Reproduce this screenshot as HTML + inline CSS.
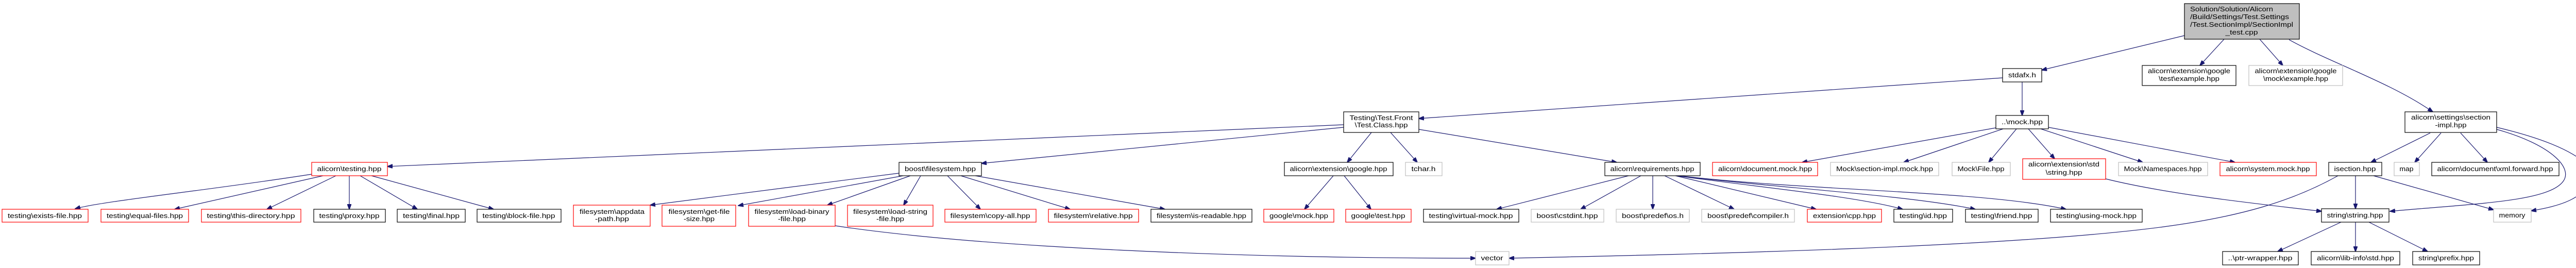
<!DOCTYPE html>
<html><head><meta charset="utf-8"><style>
html,body{margin:0;padding:0;background:#fff;}
svg{display:block;}
text{font-family:"Liberation Sans",sans-serif;font-size:12.5px;fill:#000;}
.b{fill:#fff;stroke:#000;stroke-width:1.2;}
.r{fill:#fff;stroke:#ff0000;stroke-width:1.2;}
.g{fill:#fff;stroke:#bfbfbf;stroke-width:1.2;}
.e{fill:none;stroke:#191970;stroke-width:1.2;marker-end:url(#a);}
</style></head><body>
<svg width="5038" height="520" viewBox="0 0 5038 520" xmlns="http://www.w3.org/2000/svg">
<defs><marker id="a" markerWidth="11" markerHeight="8" refX="10" refY="4" orient="auto" markerUnits="userSpaceOnUse"><path d="M0,0 L11,4 L0,8 z" fill="#191970" stroke="#191970"/></marker></defs>

<!-- edges -->
<path class="e" d="M4240,69 L3963,136"/>
<path class="e" d="M4317,76 L4270,127"/>
<path class="e" d="M4386,76 L4431,127"/>
<path class="e" d="M4443,77 C4520,120 4640,160 4722,217"/>
<path class="e" d="M3925,159 L3925,224"/>
<path class="e" d="M3887,151 L2754,230"/>
<path class="e" d="M2608,242 L752,323"/>
<path class="e" d="M2608,247 L1905,317"/>
<path class="e" d="M2662,257 L2615,315"/>
<path class="e" d="M2699,257 L2751,315"/>
<path class="e" d="M2754,251 L3138,315"/>
<path class="e" d="M2588,341 L2532,406"/>
<path class="e" d="M2609,341 L2661,406"/>
<path class="e" d="M3161,341 L2905,406"/>
<path class="e" d="M3185,341 L3068,406"/>
<path class="e" d="M3208,341 L3208,406"/>
<path class="e" d="M3231,341 L3366,406"/>
<path class="e" d="M3252,341 L3525,406"/>
<path class="e" d="M3255,341 C3400,362 3600,380 3693,406"/>
<path class="e" d="M3257,341 C3450,365 3700,378 3834,406"/>
<path class="e" d="M3259,341 C3500,370 3850,370 4010,406"/>
<path class="e" d="M3874,248 L3498,315"/>
<path class="e" d="M3888,250 L3695,315"/>
<path class="e" d="M3914,250 L3860,315"/>
<path class="e" d="M3937,250 L3988,308"/>
<path class="e" d="M3961,250 L4159,315"/>
<path class="e" d="M3976,247 L4338,315"/>
<path class="e" d="M4087,347 C4200,375 4350,392 4506,410"/>
<path class="e" d="M4538,341 C4450,390 4350,420 4200,440 C3900,480 3300,493 2929,501"/>
<path class="e" d="M1621,438 C1900,480 2400,501 2864,501"/>
<path class="e" d="M1745,336 L1262,398"/>
<path class="e" d="M1753,341 L1433,399"/>
<path class="e" d="M1767,341 L1606,398"/>
<path class="e" d="M1787,341 L1754,398"/>
<path class="e" d="M1839,341 L1903,406"/>
<path class="e" d="M1865,341 L2077,406"/>
<path class="e" d="M1893,341 L2261,406"/>
<path class="e" d="M605,338 C400,370 200,390 146,405"/>
<path class="e" d="M627,341 L339,406"/>
<path class="e" d="M652,341 L518,406"/>
<path class="e" d="M678,341 L678,406"/>
<path class="e" d="M699,341 L810,406"/>
<path class="e" d="M721,341 L958,406"/>
<path class="e" d="M4717,258 L4602,315"/>
<path class="e" d="M4738,258 L4687,315"/>
<path class="e" d="M4776,258 L4828,315"/>
<path class="e" d="M4846,251 C4950,280 4995,325 4975,352 C4945,392 4800,395 4639,410"/>
<path class="e" d="M4846,247 C4985,280 5040,320 5030,348 C5015,385 4970,400 4913,409"/>
<path class="e" d="M4572,341 L4572,405"/>
<path class="e" d="M4607,341 L4840,407"/>
<path class="e" d="M4544,431 L4421,488"/>
<path class="e" d="M4572,431 L4572,488"/>
<path class="e" d="M4598,431 L4712,488"/>

<!-- root -->
<rect x="4240" y="7" width="223" height="69" fill="#bfbfbf" stroke="#000" stroke-width="1.2"/>
<text x="4251" y="22" textLength="161" lengthAdjust="spacingAndGlyphs">Solution/Solution/Alicorn</text>
<text x="4251" y="37" textLength="192" lengthAdjust="spacingAndGlyphs">/Build/Settings/Test.Settings</text>
<text x="4251" y="52" textLength="200" lengthAdjust="spacingAndGlyphs">/Test.SectionImpl/SectionImpl</text>
<text x="4351" y="67" text-anchor="middle" textLength="63" lengthAdjust="spacingAndGlyphs">_test.cpp</text>

<!-- two-line nodes -->
<rect class="b" x="4158" y="127" width="182" height="39"/>
<text x="4249" y="142" text-anchor="middle" textLength="160" lengthAdjust="spacingAndGlyphs">alicorn\extension\google</text>
<text x="4249" y="157" text-anchor="middle" textLength="118" lengthAdjust="spacingAndGlyphs">\test\example.hpp</text>
<rect class="g" x="4365" y="127" width="182" height="39"/>
<text x="4456" y="142" text-anchor="middle" textLength="159" lengthAdjust="spacingAndGlyphs">alicorn\extension\google</text>
<text x="4456" y="157" text-anchor="middle" textLength="126" lengthAdjust="spacingAndGlyphs">\mock\example.hpp</text>
<rect class="b" x="4668" y="217" width="178" height="40"/>
<text x="4757" y="232" text-anchor="middle" textLength="154" lengthAdjust="spacingAndGlyphs">alicorn\settings\section</text>
<text x="4757" y="247" text-anchor="middle" textLength="61" lengthAdjust="spacingAndGlyphs">-impl.hpp</text>
<rect class="r" x="3926" y="308" width="161" height="40"/>
<text x="4006" y="323" text-anchor="middle" textLength="138" lengthAdjust="spacingAndGlyphs">alicorn\extension\std</text>
<text x="4006" y="339" text-anchor="middle" textLength="71" lengthAdjust="spacingAndGlyphs">\string.hpp</text>
<rect class="b" x="2608" y="217" width="146" height="40"/>
<text x="2681" y="233" text-anchor="middle" textLength="123" lengthAdjust="spacingAndGlyphs">Testing\Test.Front</text>
<text x="2681" y="247" text-anchor="middle" textLength="103" lengthAdjust="spacingAndGlyphs">\Test.Class.hpp</text>
<rect class="r" x="1113" y="398" width="149" height="41"/>
<text x="1188" y="415" text-anchor="middle" textLength="126" lengthAdjust="spacingAndGlyphs">filesystem\appdata</text>
<text x="1188" y="429" text-anchor="middle" textLength="66" lengthAdjust="spacingAndGlyphs">-path.hpp</text>
<rect class="r" x="1285" y="398" width="143" height="41"/>
<text x="1357" y="415" text-anchor="middle" textLength="119" lengthAdjust="spacingAndGlyphs">filesystem\get-file</text>
<text x="1357" y="429" text-anchor="middle" textLength="60" lengthAdjust="spacingAndGlyphs">-size.hpp</text>
<rect class="r" x="1453" y="398" width="168" height="41"/>
<text x="1537" y="415" text-anchor="middle" textLength="145" lengthAdjust="spacingAndGlyphs">filesystem\load-binary</text>
<text x="1537" y="429" text-anchor="middle" textLength="54" lengthAdjust="spacingAndGlyphs">-file.hpp</text>
<rect class="r" x="1645" y="398" width="166" height="41"/>
<text x="1728" y="415" text-anchor="middle" textLength="144" lengthAdjust="spacingAndGlyphs">filesystem\load-string</text>
<text x="1728" y="429" text-anchor="middle" textLength="54" lengthAdjust="spacingAndGlyphs">-file.hpp</text>

<!-- single-line nodes: x1,x2,y -->
<rect class="b" x="3887" y="133" width="76" height="26"/><text x="3925" y="150" text-anchor="middle" textLength="54" lengthAdjust="spacingAndGlyphs">stdafx.h</text>
<rect class="b" x="3874" y="224" width="102" height="26"/><text x="3925" y="241" text-anchor="middle" textLength="80" lengthAdjust="spacingAndGlyphs">..\mock.hpp</text>

<rect class="r" x="605" y="315" width="147" height="26"/><text x="678" y="332" text-anchor="middle" textLength="125" lengthAdjust="spacingAndGlyphs">alicorn\testing.hpp</text>
<rect class="b" x="1745" y="315" width="160" height="26"/><text x="1825" y="332" text-anchor="middle" textLength="138" lengthAdjust="spacingAndGlyphs">boost\filesystem.hpp</text>
<rect class="b" x="2493" y="315" width="211" height="26"/><text x="2598" y="332" text-anchor="middle" textLength="189" lengthAdjust="spacingAndGlyphs">alicorn\extension\google.hpp</text>
<rect class="g" x="2728" y="315" width="71" height="26"/><text x="2763" y="332" text-anchor="middle" textLength="47" lengthAdjust="spacingAndGlyphs">tchar.h</text>
<rect class="b" x="3115" y="315" width="185" height="26"/><text x="3207" y="332" text-anchor="middle" textLength="163" lengthAdjust="spacingAndGlyphs">alicorn\requirements.hpp</text>
<rect class="r" x="3324" y="315" width="204" height="26"/><text x="3426" y="332" text-anchor="middle" textLength="182" lengthAdjust="spacingAndGlyphs">alicorn\document.mock.hpp</text>
<rect class="g" x="3553" y="315" width="210" height="26"/><text x="3658" y="332" text-anchor="middle" textLength="188" lengthAdjust="spacingAndGlyphs">Mock\section-impl.mock.hpp</text>
<rect class="g" x="3789" y="315" width="113" height="26"/><text x="3845" y="332" text-anchor="middle" textLength="91" lengthAdjust="spacingAndGlyphs">Mock\File.hpp</text>
<rect class="g" x="4112" y="315" width="173" height="26"/><text x="4198" y="332" text-anchor="middle" textLength="151" lengthAdjust="spacingAndGlyphs">Mock\Namespaces.hpp</text>
<rect class="r" x="4309" y="315" width="187" height="26"/><text x="4402" y="332" text-anchor="middle" textLength="163" lengthAdjust="spacingAndGlyphs">alicorn\system.mock.hpp</text>
<rect class="b" x="4520" y="315" width="103" height="26"/><text x="4571" y="332" text-anchor="middle" textLength="81" lengthAdjust="spacingAndGlyphs">isection.hpp</text>
<rect class="g" x="4647" y="315" width="49" height="26"/><text x="4671" y="332" text-anchor="middle" textLength="27" lengthAdjust="spacingAndGlyphs">map</text>
<rect class="b" x="4720" y="315" width="247" height="26"/><text x="4843" y="332" text-anchor="middle" textLength="225" lengthAdjust="spacingAndGlyphs">alicorn\document\xml.forward.hpp</text>

<rect class="r" x="4" y="406" width="167" height="25"/><text x="87" y="423" text-anchor="middle" textLength="144" lengthAdjust="spacingAndGlyphs">testing\exists-file.hpp</text>
<rect class="r" x="196" y="406" width="170" height="25"/><text x="281" y="423" text-anchor="middle" textLength="148" lengthAdjust="spacingAndGlyphs">testing\equal-files.hpp</text>
<rect class="r" x="391" y="406" width="193" height="25"/><text x="487" y="423" text-anchor="middle" textLength="171" lengthAdjust="spacingAndGlyphs">testing\this-directory.hpp</text>
<rect class="b" x="609" y="406" width="139" height="25"/><text x="678" y="423" text-anchor="middle" textLength="117" lengthAdjust="spacingAndGlyphs">testing\proxy.hpp</text>
<rect class="b" x="771" y="406" width="132" height="25"/><text x="837" y="423" text-anchor="middle" textLength="110" lengthAdjust="spacingAndGlyphs">testing\final.hpp</text>
<rect class="b" x="926" y="406" width="163" height="25"/><text x="1007" y="423" text-anchor="middle" textLength="141" lengthAdjust="spacingAndGlyphs">testing\block-file.hpp</text>
<rect class="r" x="1834" y="406" width="177" height="25"/><text x="1922" y="423" text-anchor="middle" textLength="155" lengthAdjust="spacingAndGlyphs">filesystem\copy-all.hpp</text>
<rect class="r" x="2035" y="406" width="175" height="25"/><text x="2122" y="423" text-anchor="middle" textLength="153" lengthAdjust="spacingAndGlyphs">filesystem\relative.hpp</text>
<rect class="b" x="2234" y="406" width="196" height="25"/><text x="2332" y="423" text-anchor="middle" textLength="174" lengthAdjust="spacingAndGlyphs">filesystem\is-readable.hpp</text>
<rect class="r" x="2453" y="406" width="136" height="25"/><text x="2521" y="423" text-anchor="middle" textLength="114" lengthAdjust="spacingAndGlyphs">google\mock.hpp</text>
<rect class="r" x="2612" y="406" width="127" height="25"/><text x="2675" y="423" text-anchor="middle" textLength="105" lengthAdjust="spacingAndGlyphs">google\test.hpp</text>
<rect class="b" x="2763" y="406" width="185" height="25"/><text x="2855" y="423" text-anchor="middle" textLength="163" lengthAdjust="spacingAndGlyphs">testing\virtual-mock.hpp</text>
<rect class="g" x="2972" y="406" width="141" height="25"/><text x="3042" y="423" text-anchor="middle" textLength="119" lengthAdjust="spacingAndGlyphs">boost\cstdint.hpp</text>
<rect class="g" x="3137" y="406" width="142" height="25"/><text x="3208" y="423" text-anchor="middle" textLength="120" lengthAdjust="spacingAndGlyphs">boost\predef\os.h</text>
<rect class="g" x="3303" y="406" width="180" height="25"/><text x="3393" y="423" text-anchor="middle" textLength="158" lengthAdjust="spacingAndGlyphs">boost\predef\compiler.h</text>
<rect class="r" x="3508" y="406" width="144" height="25"/><text x="3580" y="423" text-anchor="middle" textLength="122" lengthAdjust="spacingAndGlyphs">extension\cpp.hpp</text>
<rect class="b" x="3676" y="406" width="114" height="25"/><text x="3733" y="423" text-anchor="middle" textLength="92" lengthAdjust="spacingAndGlyphs">testing\id.hpp</text>
<rect class="b" x="3815" y="406" width="141" height="25"/><text x="3885" y="423" text-anchor="middle" textLength="119" lengthAdjust="spacingAndGlyphs">testing\friend.hpp</text>
<rect class="b" x="3980" y="406" width="178" height="25"/><text x="4069" y="423" text-anchor="middle" textLength="156" lengthAdjust="spacingAndGlyphs">testing\using-mock.hpp</text>
<rect class="b" x="4506" y="405" width="131" height="26"/><text x="4571" y="422" text-anchor="middle" textLength="109" lengthAdjust="spacingAndGlyphs">string\string.hpp</text>
<rect class="g" x="4840" y="405" width="73" height="26"/><text x="4876" y="422" text-anchor="middle" textLength="51" lengthAdjust="spacingAndGlyphs">memory</text>

<rect class="g" x="2864" y="488" width="65" height="26"/><text x="2896" y="505" text-anchor="middle" textLength="43" lengthAdjust="spacingAndGlyphs">vector</text>
<rect class="b" x="4314" y="488" width="147" height="26"/><text x="4387" y="505" text-anchor="middle" textLength="125" lengthAdjust="spacingAndGlyphs">..\ptr-wrapper.hpp</text>
<rect class="b" x="4486" y="488" width="172" height="26"/><text x="4572" y="505" text-anchor="middle" textLength="150" lengthAdjust="spacingAndGlyphs">alicorn\lib-info\std.hpp</text>
<rect class="b" x="4683" y="488" width="130" height="26"/><text x="4748" y="505" text-anchor="middle" textLength="108" lengthAdjust="spacingAndGlyphs">string\prefix.hpp</text>
</svg>
</body></html>
